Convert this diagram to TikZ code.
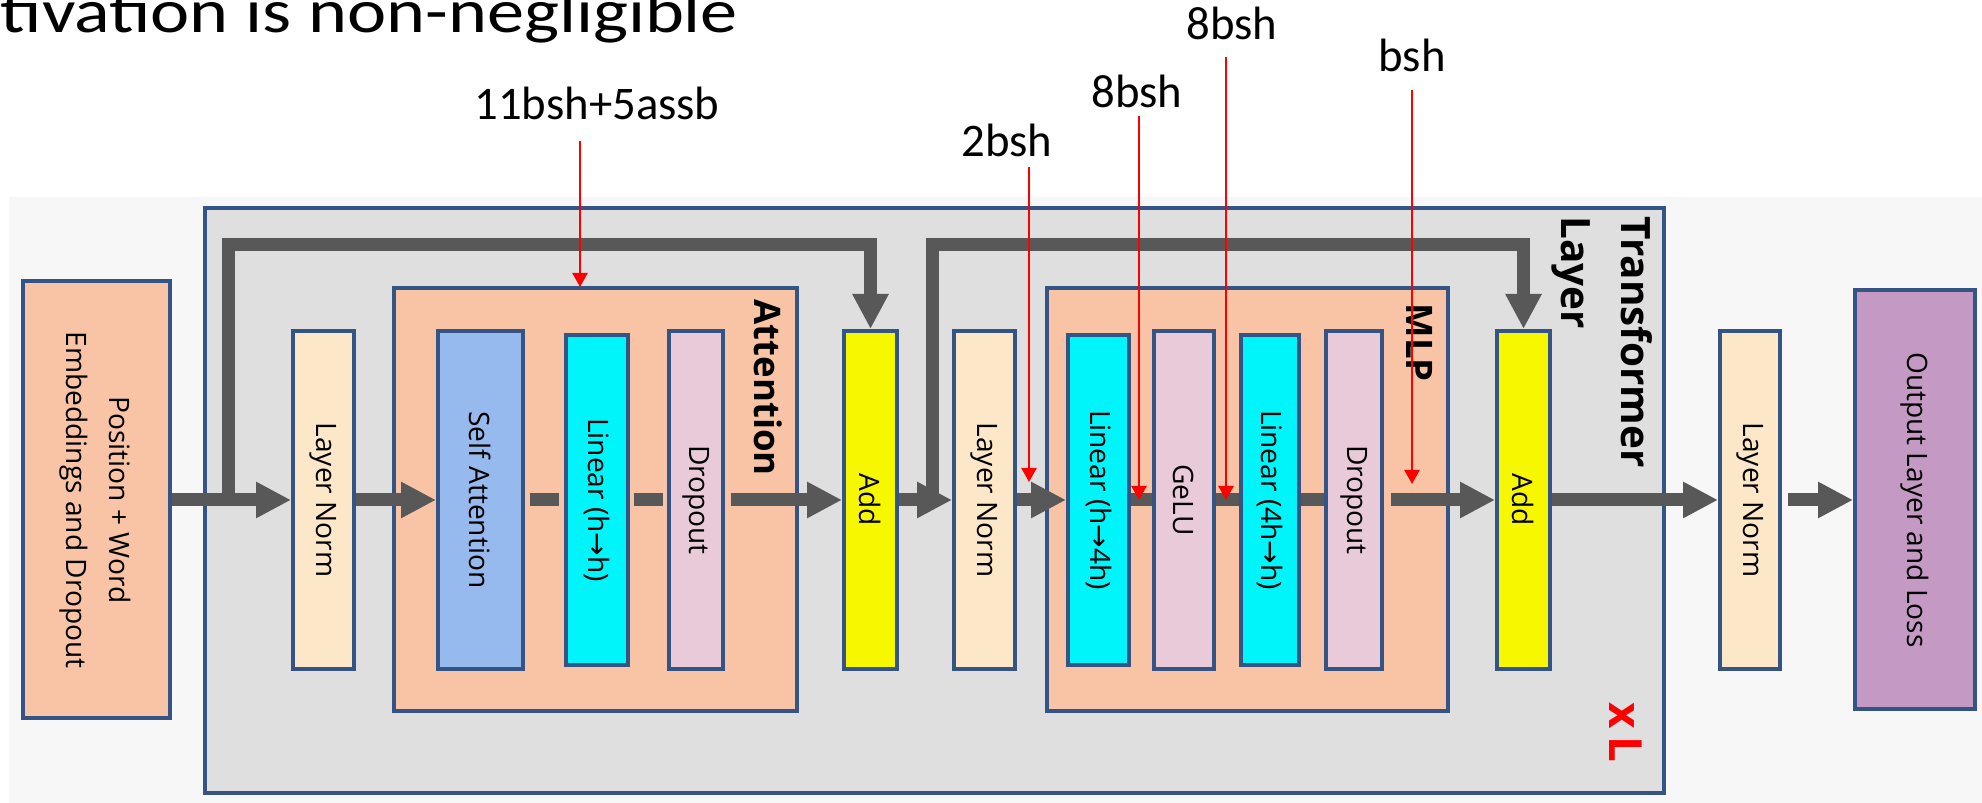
\documentclass[tikz,border=0pt]{standalone}
\usepackage{fontspec}
\usepackage{graphicx}
\setmainfont{Open Sans}
\newfontfamily\calfont{Carlito}
\newfontfamily\symfont{DejaVu Sans}
\newcommand{\rarr}{{\symfont →}}

\begin{document}
\begin{tikzpicture}[x=0.1mm,y=-0.1mm,
        box/.style 2 args={draw=edgeblue,line width=0.4mm,inner sep=0,
            minimum width=#1,minimum height=#2,font=\fontsize{8}{12}\selectfont},
        flow/.style={draw=flowgray,line width=1.3mm,-{Triangle[length=3.5mm,width=3.4mm]}},
        link/.style={draw=flowgray,line width=1.3mm},
        memlabel/.style={font=\calfont\fontsize{13.3}{16}\selectfont,anchor=base,inner sep=0},
        memarrow/.style={draw=red,line width=0.25mm,-{Triangle[length=1.4mm,width=1.5mm]},shorten <=1.3mm},
        tag/.style={font=\bfseries\fontsize{10.4}{12}\selectfont,inner sep=0,anchor=north east}]
        \usetikzlibrary{arrows.meta}
        \definecolor{panelgray}{RGB}{247,247,247}
        \definecolor{layergray}{RGB}{223,223,224}
        \definecolor{edgeblue}{RGB}{52,84,134}
        \definecolor{salmon}{RGB}{248,196,165}
        \definecolor{lnorm}{RGB}{252,232,200}
        \definecolor{attblue}{RGB}{150,186,238}
        \definecolor{lincyan}{RGB}{0,245,250}
        \definecolor{droppink}{RGB}{232,202,216}
        \definecolor{addyellow}{RGB}{247,247,0}
        \definecolor{outpurple}{RGB}{196,154,196}
        \definecolor{flowgray}{RGB}{88,88,88}

        \useasboundingbox (0,0) rectangle (1982,803);

        % title
        \node[anchor=base west,inner sep=0,font=\calfont\fontsize{17.6}{20}\selectfont]
            (title) at (0,33) {\scalebox{1.2}[1]{tivation is non-negligible}};

        % background
        \fill[panelgray] (9,197) rectangle (1982,803);
        \node[box={145.9mm}{58.5mm},fill=layergray] (layer) at (934.5,500.5) {};

        % blocks
        \node[box={14.7mm}{43.7mm},fill=salmon] (emb) at (96.5,500)
            {\rotatebox{-90}{\begin{tabular}{@{}c@{}}Position + Word\\Embeddings and Dropout\end{tabular}}};
        \node[box={6.1mm}{33.8mm},fill=lnorm] (ln1) at (323.5,500) {\rotatebox{-90}{Layer Norm}};
        \node[box={40.3mm}{42.3mm},fill=salmon] (attn) at (595.5,500) {};
        \node[box={8.5mm}{33.8mm},fill=attblue] (sa) at (480.5,500) {\rotatebox{-90}{Self Attention}};
        \node[box={6.2mm}{33.0mm},fill=lincyan] (lin1) at (597,500) {\rotatebox{-90}{Linear (h\rarr h)}};
        \node[box={5.4mm}{33.8mm},fill=droppink] (drop1) at (696,500) {\rotatebox{-90}{Dropout}};
        \node[box={5.3mm}{33.8mm},fill=addyellow] (add1) at (870.5,500) {\rotatebox{-90}{Add}};
        \node[box={6.1mm}{33.8mm},fill=lnorm] (ln2) at (984.5,500) {\rotatebox{-90}{Layer Norm}};
        \node[box={40.1mm}{42.3mm},fill=salmon] (mlp) at (1247.5,500) {};
        \node[box={6.1mm}{33.0mm},fill=lincyan] (lin2) at (1098.5,500) {\rotatebox{-90}{Linear (h\rarr 4h)}};
        \node[box={6.0mm}{33.8mm},fill=droppink] (gelu) at (1184,500) {\rotatebox{-90}{GeLU}};
        \node[box={5.8mm}{33.0mm},fill=lincyan] (lin3) at (1269.5,500) {\rotatebox{-90}{Linear (4h\rarr h)}};
        \node[box={5.6mm}{33.8mm},fill=droppink] (drop2) at (1354,500) {\rotatebox{-90}{Dropout}};
        \node[box={5.3mm}{33.8mm},fill=addyellow] (add2) at (1523.5,500) {\rotatebox{-90}{Add}};
        \node[box={6.0mm}{33.8mm},fill=lnorm] (ln3) at (1750,500) {\rotatebox{-90}{Layer Norm}};
        \node[box={12.0mm}{41.9mm},fill=outpurple] (out) at (1915,500) {\rotatebox{-90}{Output Layer and Loss}};

        % titles of the groups
        \node[tag] (attnname) at (783,299) {\rotatebox{-90}{Attention}};
        \node[tag] (mlpname) at (1433,303) {\rotatebox{-90}{MLP}};
        \node[tag,font=\bfseries\fontsize{11.5}{17}\selectfont] (layername) at (1664,216)
            {\rotatebox{-90}{\begin{tabular}{@{}l@{}}Transformer\\Layer\end{tabular}}};
        \node[tag,anchor=south east,text=red,font=\bfseries\fontsize{13}{15}\selectfont]
            (times) at (1643,763) {\rotatebox{-90}{x\,L}};

        % main flow
        \draw[flow] (emb.east) -- (ln1.west);
        \draw[flow] (ln1.east) -- (sa.west);
        \draw[link,shorten <=0.5mm,shorten >=0.5mm] (sa.east) -- (lin1.west);
        \draw[link,shorten <=0.4mm,shorten >=0.4mm] (lin1.east) -- (drop1.west);
        \draw[flow,shorten <=0.6mm] (drop1.east) -- (add1.west);
        \draw[flow] (add1.east) -- (ln2.west);
        \draw[flow] (ln2.east) -- (lin2.west);
        \draw[link] (lin2.east) -- (gelu.west);
        \draw[link] (gelu.east) -- (lin3.west);
        \draw[link] (lin3.east) -- (drop2.west);
        \draw[flow,shorten <=0.7mm] (drop2.east) -- (add2.west);
        \draw[flow] (add2.east) -- (ln3.west);
        \draw[flow,shorten <=0.6mm] (ln3.east) -- (out.west);

        % residual paths
        \coordinate (top) at (0,245);
        \coordinate (sk1) at (228,506);
        \coordinate (sk2) at (932,506);
        \draw[flow] (sk1) -- (sk1 |- top) -| (add1.north);
        \draw[flow] (sk2) -- (sk2 |- top) -| (add2.north);

        % stored activations
        \node[memlabel] (m1) at (597,120) {11bsh+5assb};
        \node[memlabel] (m2) at (1007,157) {2bsh};
        \node[memlabel] (m3) at (1137,108) {8bsh};
        \node[memlabel] (m4) at (1232,40) {8bsh};
        \node[memlabel] (m5) at (1412,72) {bsh};

        \coordinate (t1) at (580,287);
        \coordinate (t2) at (1029,482);
        \coordinate (t3) at (1139,500);
        \coordinate (t4) at (1226,500);
        \coordinate (t5) at (1412,484);

        \draw[memarrow,shorten <=2mm] (m1.south -| t1) -- (t1);
        \draw[memarrow,shorten <=0.9mm] (m2.south -| t2) -- (t2);
        \draw[memarrow,shorten <=0.7mm] (m3.south -| t3) -- (t3);
        \draw[memarrow,shorten <=1.6mm] (m4.south -| t4) -- (t4);
        \draw[memarrow,shorten <=1.7mm] (m5.south -| t5) -- (t5);
    \end{tikzpicture}
\end{document}
